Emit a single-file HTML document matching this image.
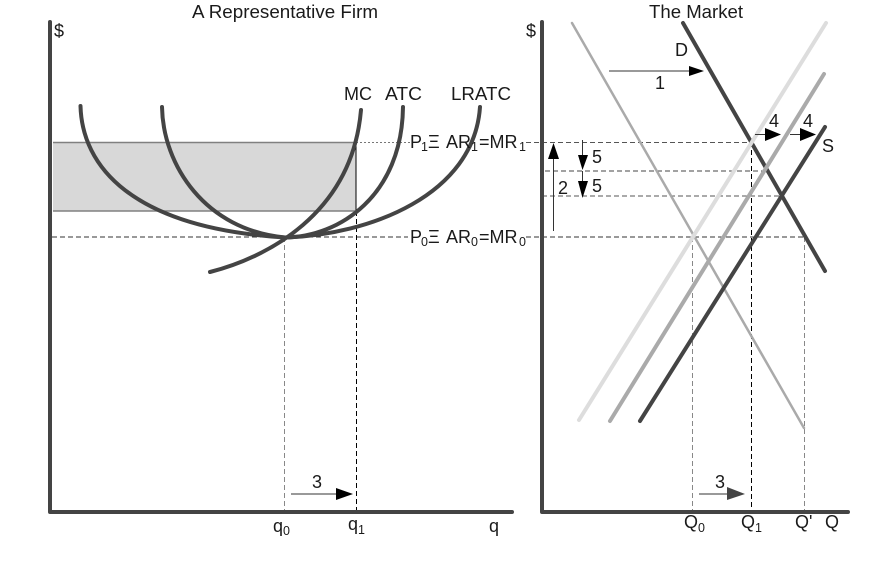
<!DOCTYPE html>
<html><head><meta charset="utf-8"><style>
html,body{margin:0;padding:0;background:#fff}
svg{display:block}
text{font-family:"Liberation Sans",sans-serif;font-size:18px;fill:#1a1a1a}
.s{font-size:12.5px}
.c{fill:none;stroke:#444;stroke-width:4;stroke-linecap:round}
</style></head><body>
<svg width="892" height="561" viewBox="0 0 892 561" xmlns="http://www.w3.org/2000/svg">
<rect width="892" height="561" fill="#fff"/>
<!-- shaded rect -->
<rect x="53" y="142.500" width="303" height="68.500" fill="#d8d8d8"/>
<path d="M53 142.500H356M53 211H356" stroke="#808080" stroke-width="1.500" fill="none"/>
<path d="M356 142.500V211" stroke="#000" stroke-width="1" fill="none"/>
<!-- dashed guides -->
<g fill="none" stroke-width="1" stroke-dasharray="5 3">
<path d="M356 142.500H410" stroke="#777" stroke-dasharray="2 2"/>
<path d="M526 142.500H752" stroke="#555"/>
<path d="M545 171H768" stroke="#444"/>
<path d="M542 196H782" stroke="#555"/>
<path d="M52 237H408M526 237H805" stroke="#333"/>
<path d="M284.500 237V512" stroke="#888"/>
<path d="M356.500 211V512" stroke="#000"/>
<path d="M692.500 237V512" stroke="#888"/>
<path d="M751.500 142V512" stroke="#000"/>
<path d="M804.500 237V512" stroke="#888"/>
</g>
<!-- axes -->
<path d="M50 22V512H512" fill="none" stroke="#444" stroke-width="4" stroke-linecap="round" stroke-linejoin="round"/>
<path d="M542 22V512H848" fill="none" stroke="#444" stroke-width="4" stroke-linecap="round" stroke-linejoin="round"/>
<!-- curves -->
<path class="c" d="M80.500 106C82 165 130 228 285 237.500C370 235 474 195 480 107"/>
<path class="c" d="M162 107C163 165 205 230 285 237.500C340 237 402 195 403 107"/>
<path class="c" d="M210 272C265 258 352 215 361 110"/>
<!-- market lines -->
<path d="M572 23L804 428" stroke="#aaa" stroke-width="2.500" stroke-linecap="round"/>
<path d="M683 23L825 271" stroke="#444" stroke-width="4" stroke-linecap="round"/>
<path d="M579 420L826 23" stroke="#ddd" stroke-width="4" stroke-linecap="round"/>
<path d="M610 421L824 74" stroke="#aaa" stroke-width="4" stroke-linecap="round"/>
<path d="M640 421L825 127" stroke="#444" stroke-width="4" stroke-linecap="round"/>
<!-- arrows -->
<g stroke="#333" stroke-width="1" fill="none">
<path d="M291 494H340M699 494H730"/>
<path d="M609 71H692"/>
<path d="M553.500 231V150"/>
<path d="M582.500 140V160M582.500 171V185"/>
<path d="M755 134.500H770M790 134.500H805"/>
</g>
<g fill="#000">
<polygon points="336,488 353,494 336,500"/>
<polygon points="727,487 745,494 727,500" fill="#444"/>
<polygon points="689,66 704,71 689,76"/>
<polygon points="553.500,143 548,159 559,159"/>
<polygon points="578,155 588,155 582.500,170"/>
<polygon points="578,181 588,181 582.500,198"/>
<polygon points="765,128 781,134.500 765,141"/>
<polygon points="800,128 816,134.500 800,141"/>
</g>
<!-- labels -->
<text x="192" y="18" textLength="186" lengthAdjust="spacingAndGlyphs">A Representative Firm</text>
<text x="649" y="18" textLength="94" lengthAdjust="spacingAndGlyphs">The Market</text>
<text x="54" y="37">$</text>
<text x="526" y="37">$</text>
<text x="344" y="100">MC</text>
<text x="385" y="100" textLength="37" lengthAdjust="spacingAndGlyphs">ATC</text>
<text x="451" y="100" textLength="60" lengthAdjust="spacingAndGlyphs">LRATC</text>
<text x="410" y="148">P</text><text class="s" x="421" y="151">1</text>
<text x="428" y="148">Ξ</text>
<text x="446" y="148">AR</text><text class="s" x="471" y="151">1</text>
<text x="479" y="148">=MR</text><text class="s" x="519" y="151">1</text>
<text x="410" y="243">P</text><text class="s" x="421" y="246">0</text>
<text x="428" y="243">Ξ</text>
<text x="446" y="243">AR</text><text class="s" x="471" y="246">0</text>
<text x="479" y="243">=MR</text><text class="s" x="519" y="246">0</text>
<text x="675" y="56">D</text>
<text x="655" y="89">1</text>
<text x="558" y="194">2</text>
<text x="592" y="163">5</text>
<text x="592" y="192">5</text>
<text x="769" y="127">4</text>
<text x="803" y="127">4</text>
<text x="822" y="152">S</text>
<text x="312" y="488">3</text>
<text x="715" y="488">3</text>
<text x="273" y="532">q</text><text class="s" x="283" y="535">0</text>
<text x="348" y="530">q</text><text class="s" x="358" y="534">1</text>
<text x="489" y="532">q</text>
<text x="684" y="528">Q</text><text class="s" x="698" y="532">0</text>
<text x="741" y="528">Q</text><text class="s" x="755" y="532">1</text>
<text x="795" y="528">Q'</text>
<text x="825" y="528">Q</text>
</svg>
</body></html>
